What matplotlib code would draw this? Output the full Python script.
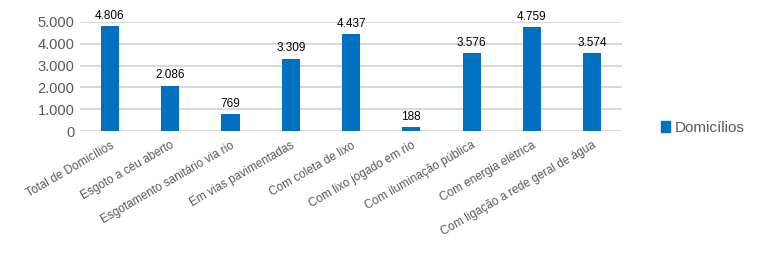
import matplotlib
matplotlib.use("Agg")
import matplotlib.pyplot as plt
from matplotlib.patches import Patch

categories = ["Total de Domicílios", "Esgoto a céu aberto", "Esgotamento sanitário via rio",
              "Em vias pavimentadas", "Com coleta de lixo", "Com lixo jogado em rio",
              "Com iluminação pública", "Com energia elétrica", "Com ligação a rede geral de água"]
values = [4806, 2086, 769, 3309, 4437, 188, 3576, 4759, 3574]
yticks = [0, 1000, 2000, 3000, 4000, 5000]
series_name = "Domicílios"

def fmt(v):
    return f"{v:,}".replace(",", ".")

plt.rcParams['font.family'] = ['Liberation Sans', 'DejaVu Sans']
fig = plt.figure(figsize=(7.75, 2.58), dpi=100)
ax = fig.add_axes([0.103, 0.492, 0.700, 0.423])
x = list(range(len(categories)))
bars = ax.bar(x, values, width=0.3, color="#0070C0", zorder=3)
for xi, v in zip(x, values):
    ax.text(xi, v + 200, fmt(v), ha="center", va="bottom", fontsize=8.5, color="black")
ax.set_ylim(0, 5000)
ax.set_xlim(-0.5, len(categories) - 0.5)
ax.set_yticks(yticks)
ax.set_yticklabels([fmt(t) for t in yticks], fontsize=10.5, color="#595959")
ax.set_xticks(x)
ax.set_xticklabels(categories, rotation=30, ha="right", rotation_mode="anchor",
                   fontsize=8.5, color="#595959")
ax.grid(axis="y", color="#D9D9D9", linewidth=1.5, zorder=0)
ax.tick_params(length=0, pad=4)
ax.tick_params(axis="x", pad=6)
for s in ax.spines.values():
    s.set_visible(False)
ax.axhline(0, color="#D9D9D9", linewidth=1.5, zorder=2)
fig.legend(handles=[Patch(color="#0070C0", label=series_name)], loc="center left",
           bbox_to_anchor=(0.835, 0.505), frameon=False, fontsize=11,
           handlelength=0.6, handleheight=0.8, handletextpad=0.3, labelcolor="#595959")
fig.savefig("out.png", dpi=100)
